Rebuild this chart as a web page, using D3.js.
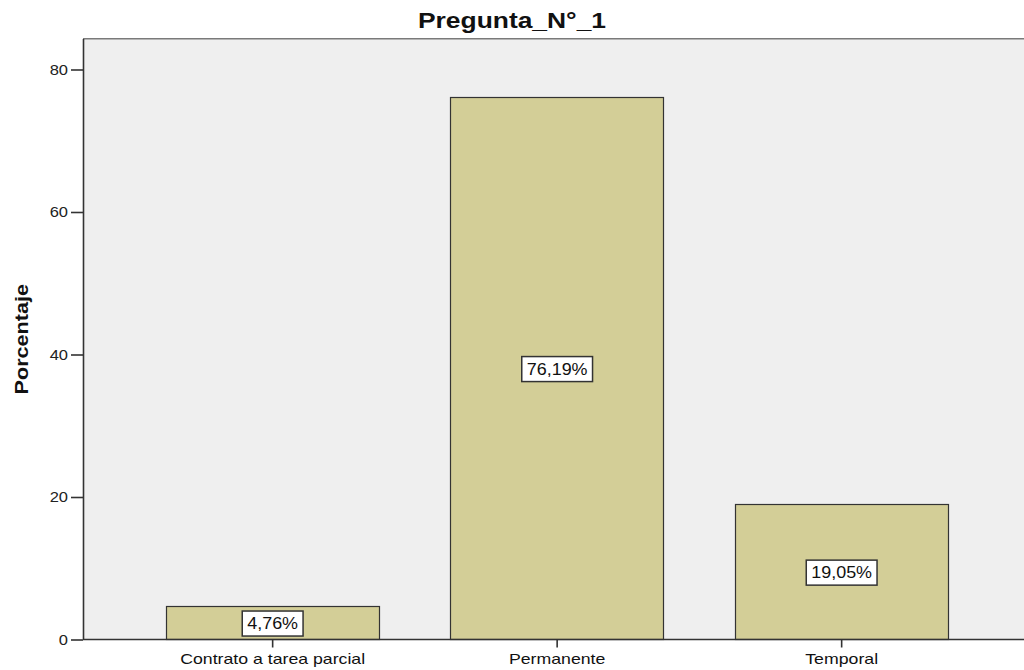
<!DOCTYPE html>
<html>
<head>
<meta charset="utf-8">
<script src="https://cdn.jsdelivr.net/npm/d3@7"></script>
<style>
  html, body { margin: 0; padding: 0; background: #ffffff; }
  svg { display: block; font-family: Arial, "Liberation Sans", sans-serif; }
</style>
</head>
<body>
<svg id="chart" width="1024" height="670"></svg>
<script>
// Pregunta N°1 — percentage per contract type
const categories = ["Contrato a tarea parcial", "Permanente", "Temporal"];
const percentages = [4.76, 76.19, 19.05];
const yTicks = [0, 20, 40, 60, 80];
const chartTitle = "Pregunta_N°_1";
const yTitle = "Porcentaje";

const svg = d3.select("#chart");
const W = 1024, H = 670;
const plot = { left: 83, right: 1024, top: 39, bottom: 639.5 };

// horizontal stretch applied to all text
function stretch(sel, k) {
  sel.each(function () {
    const len = this.getComputedTextLength();
    d3.select(this).attr("textLength", len * k).attr("lengthAdjust", "spacingAndGlyphs");
  });
}

const x = d3.scaleBand()
  .domain(categories)
  .range([130.4, 983.9])
  .paddingInner(0.25)
  .paddingOuter(0.125);

const y = d3.scaleLinear()
  .domain([0, 84.28])
  .range([plot.bottom, plot.top]);

// plot background
svg.append("rect")
  .attr("x", plot.left).attr("y", plot.top)
  .attr("width", plot.right - plot.left).attr("height", plot.bottom - plot.top)
  .attr("fill", "#efefef");

// top frame line
svg.append("line")
  .attr("x1", plot.left).attr("x2", plot.right)
  .attr("y1", plot.top - 0.5).attr("y2", plot.top - 0.5)
  .attr("stroke", "#7a7a7a").attr("stroke-width", 1);
svg.append("line")
  .attr("x1", plot.left).attr("x2", plot.right)
  .attr("y1", plot.top + 0.5).attr("y2", plot.top + 0.5)
  .attr("stroke", "#b4b4b4").attr("stroke-width", 1);

// bars
const data = categories.map((c, i) => ({ cat: c, value: percentages[i] }));
svg.append("g").selectAll("rect")
  .data(data)
  .join("rect")
  .attr("x", d => Math.round(x(d.cat)) + 0.5)
  .attr("y", d => Math.round(y(d.value)) + 0.5)
  .attr("width", Math.round(x.bandwidth()))
  .attr("height", d => plot.bottom - Math.round(y(d.value)) - 0.5)
  .attr("fill", "#d3ce97")
  .attr("stroke", "#333333")
  .attr("stroke-width", 1.2);

// y axis
const yAxis = d3.axisLeft(y).tickValues(yTicks).tickSize(12).tickPadding(3).tickFormat(d3.format("d"));
const gy = svg.append("g")
  .attr("transform", `translate(${plot.left},0)`)
  .call(yAxis);
gy.select(".domain").attr("stroke", "#333").attr("stroke-width", 1.6)
  .attr("d", `M0.5,${plot.top}V${plot.bottom}`);
gy.selectAll(".tick line").attr("stroke", "#333").attr("stroke-width", 1.6);
gy.selectAll(".tick text")
  .attr("font-size", 15).attr("fill", "#222")
  .attr("font-family", "Arial, 'Liberation Sans', sans-serif")
  .call(stretch, 1.1);

// x axis
const xAxis = d3.axisBottom(x).tickSize(8).tickPadding(6);
const gx = svg.append("g")
  .attr("transform", `translate(0,${plot.bottom})`)
  .call(xAxis);
gx.select(".domain").attr("stroke", "#333").attr("stroke-width", 1.6)
  .attr("d", `M${plot.left},0H${plot.right}`);
gx.selectAll(".tick line").attr("stroke", "#333").attr("stroke-width", 1.6);
gx.selectAll(".tick text")
  .attr("font-size", 15).attr("fill", "#111")
  .attr("font-family", "Arial, 'Liberation Sans', sans-serif")
  .call(stretch, 1.18);

// value labels inside bars
const fmt = v => v.toFixed(2).replace(".", ",") + "%";
const lbl = svg.append("g").selectAll("g")
  .data(data)
  .join("g")
  .attr("transform", d => `translate(${x(d.cat) + x.bandwidth() / 2},${y(d.value / 2) + 1})`);
const lblText = lbl.append("text")
  .attr("text-anchor", "middle")
  .attr("dy", "0.36em")
  .attr("font-size", 16)
  .attr("fill", "#111")
  .text(d => fmt(d.value))
  .call(stretch, 1.12);
lbl.insert("rect", "text")
  .each(function () {
    const t = d3.select(this.parentNode).select("text").node();
    const w = +t.getAttribute("textLength") + 10;
    d3.select(this)
      .attr("x", -w / 2).attr("y", -12.5)
      .attr("width", w).attr("height", 25);
  })
  .attr("fill", "#ffffff")
  .attr("stroke", "#333")
  .attr("stroke-width", 1.5);

// title
svg.append("text")
  .attr("x", W / 2).attr("y", 28)
  .attr("text-anchor", "middle")
  .attr("font-size", 22).attr("font-weight", "bold").attr("fill", "#111")
  .text(chartTitle)
  .call(stretch, 1.2);

// y axis title
svg.append("text")
  .attr("transform", `translate(28,${(plot.top + plot.bottom) / 2}) rotate(-90)`)
  .attr("text-anchor", "middle")
  .attr("font-size", 18).attr("font-weight", "bold").attr("fill", "#111")
  .text(yTitle)
  .call(stretch, 1.2);
</script>
</body>
</html>
